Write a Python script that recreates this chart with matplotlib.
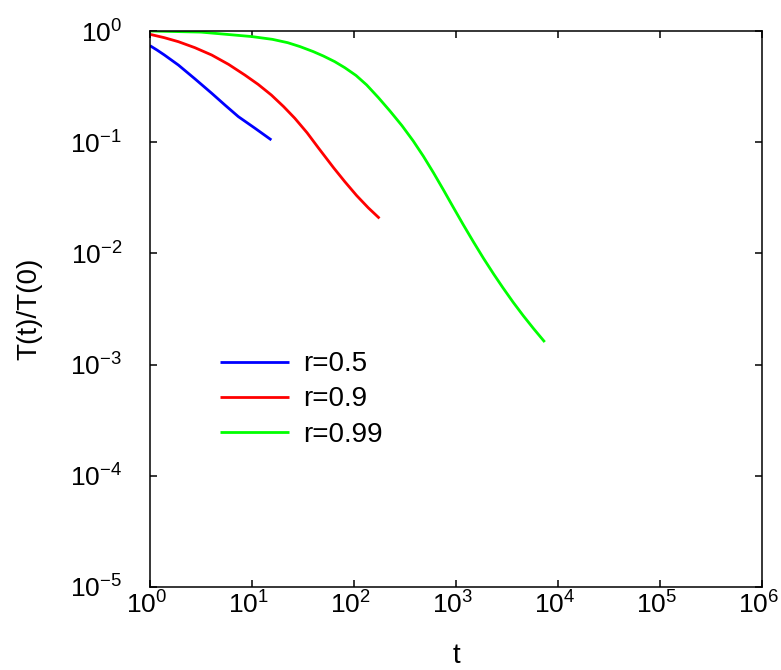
import matplotlib
matplotlib.use("Agg")
import matplotlib.pyplot as plt
import matplotlib.transforms as mtransforms
from matplotlib.ticker import LogLocator, NullLocator

plt.rcParams['font.family'] = ['Liberation Sans', 'DejaVu Sans']
plt.rcParams['mathtext.fontset'] = 'custom'
plt.rcParams['mathtext.rm'] = 'Liberation Sans'
plt.rcParams['mathtext.it'] = 'Liberation Sans:italic'
plt.rcParams['mathtext.bf'] = 'Liberation Sans:bold'

# data, as log10 values of t and T(t)/T(0)
log_t_05 = [0, 0.07, 0.14, 0.278, 0.44, 0.605, 0.74, 0.866, 1.03, 1.19]
log_T_05 = [-0.132, -0.172, -0.215, -0.306, -0.43, -0.56, -0.67, -0.77, -0.875, -0.98]

log_t_09 = [0, 0.14, 0.278, 0.44, 0.605, 0.77, 0.93, 1.06, 1.19, 1.31, 1.42,
            1.54, 1.65, 1.80, 1.91, 2.026, 2.14, 2.25]
log_T_09 = [-0.03, -0.06, -0.096, -0.15, -0.216, -0.30, -0.396, -0.48, -0.576,
            -0.68, -0.785, -0.915, -1.05, -1.23, -1.355, -1.48, -1.59, -1.685]

log_t_099 = [0, 0.5, 0.997, 1.2, 1.35, 1.47, 1.6, 1.7, 1.81, 1.91, 2.02, 2.124,
             2.24, 2.353, 2.47, 2.58, 2.68, 2.78, 2.88, 2.97, 3.07, 3.17, 3.27,
             3.37, 3.46, 3.56, 3.66, 3.76, 3.87]
log_T_099 = [0, -0.01, -0.05, -0.075, -0.105, -0.14, -0.185, -0.225, -0.275,
             -0.33, -0.40, -0.485, -0.60, -0.72, -0.851, -0.988, -1.126, -1.276,
             -1.434, -1.58, -1.74, -1.895, -2.045, -2.187, -2.309, -2.439,
             -2.561, -2.676, -2.797]

labels = ['r=0.5', 'r=0.9', 'r=0.99']
colors = ['#0000ff', '#ff0000', '#00ff00']

series = [(log_t_05, log_T_05), (log_t_09, log_T_09), (log_t_099, log_T_099)]

fig = plt.figure(figsize=(7.81, 6.70), dpi=100)
ax = fig.add_axes([150/781, 1-587/670, (762-150)/781, (587-31)/670])

for (lt, lT), lab, c in zip(series, labels, colors):
    t = [10**v for v in lt]
    T = [10**v for v in lT]
    ax.plot(t, T, color=c, lw=2.0, label=lab, solid_joinstyle='round',
            solid_capstyle='butt')

ax.set_xscale('log')
ax.set_yscale('log')
ax.set_xlim(1, 1e6)
ax.set_ylim(1e-5, 1)
ax.xaxis.set_major_locator(LogLocator(base=10, numticks=10))
ax.yaxis.set_major_locator(LogLocator(base=10, numticks=10))
ax.xaxis.set_minor_locator(NullLocator())
ax.yaxis.set_minor_locator(NullLocator())
ax.tick_params(which='major', direction='in', length=5, width=1.1,
               top=True, right=True, labelsize=19)
ax.tick_params(axis='x', pad=3)
ax.tick_params(axis='y', pad=20)
for s in ax.spines.values():
    s.set_linewidth(1.1)

# shift x tick labels slightly left, as in the reference
shift = mtransforms.ScaledTranslation(-3.5/100, 0, fig.dpi_scale_trans)
for lbl in ax.get_xticklabels():
    lbl.set_transform(lbl.get_transform() + shift)

ax.set_xlabel('t', fontsize=20, labelpad=18)
ax.set_ylabel('T(t)/T(0)', fontsize=20, labelpad=20)

leg = ax.legend(loc='upper left', bbox_to_anchor=(0.114, 0.424), frameon=False,
                fontsize=20, handlelength=2.5, handletextpad=0.5,
                labelspacing=0.33, borderaxespad=0, borderpad=0)

fig.savefig('out.png', dpi=100)
